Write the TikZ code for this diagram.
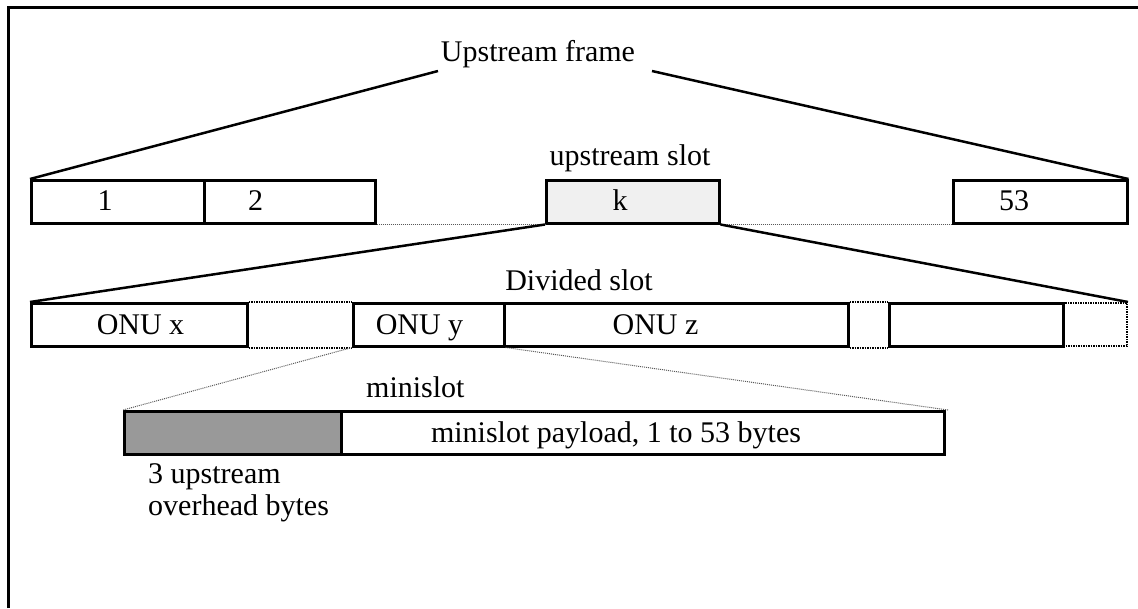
\documentclass[tikz,border=0pt]{standalone}
\usepackage{fontspec}
\setmainfont{Liberation Serif}
\definecolor{kfill}{gray}{0.94}
\definecolor{ohfill}{gray}{0.6}
\begin{document}
\begin{tikzpicture}[x=1pt,y=-1pt,
  every node/.style={font=\fontsize{30}{32}\selectfont},
  slotbox/.style={draw, line width=2.5pt, inner sep=0pt, anchor=north west, minimum height=43pt},
  gapbox/.style={draw, dash pattern=on 1.5pt off 1pt, line width=2pt, inner sep=0pt, anchor=north west, minimum height=43pt},
  lbl/.style={anchor=base, inner sep=0pt},
  link/.style={line width=2.5pt},
  gapline/.style={dash pattern=on 1.5pt off 1pt, line width=2pt},
  faint/.style={densely dotted, line width=1pt, black!65}]
\useasboundingbox (0,0) rectangle (1138,608);

% outer frame (top and left edges)
\draw[line width=3pt] (8.7,608) -- (8.7,7.5) -- (1138,7.5);

% upstream frame: slots 1, 2, k, 53
\node[slotbox, minimum width=173pt] (s1) at (30,179) {};
\node[slotbox, minimum width=171pt] (s2) at (203,179) {};
\node[slotbox, minimum width=173pt, fill=kfill] (sk) at (545,179) {};
\node[slotbox, minimum width=174pt] (s53) at (952,179) {};
\node[lbl] (t1) at (105,210) {1};
\node[lbl] (t2) at (255.5,210) {2};
\node[lbl] (tk) at (620,210) {k};
\node[lbl] (t53) at (1014,210) {53};
\draw[faint] (s2.south east) -- (sk.south west);
\draw[faint] (sk.south east) -- (s53.south west);

\node[lbl] (uf) at (538,61) {Upstream frame};
\node[lbl] (us) at (630,165) {upstream slot};
\coordinate (ufL) at (438,71);
\coordinate (ufR) at (652,71);
\draw[link] (s1.north west) -- (ufL);
\draw[link] (ufR) -- (s53.north east);

% divided slot
\node[slotbox, minimum width=216pt] (ox) at (30,302) {};
\node[slotbox, minimum width=151pt] (oy) at (352,302) {};
\node[slotbox, minimum width=344pt] (oz) at (503,302) {};
\node[gapbox, minimum width=64pt] (ot) at (1062,302) {};
\node[slotbox, minimum width=174pt] (ob) at (888,302) {};
\node[lbl] (tox) at (140.5,334) {ONU x};
\node[lbl] (toy) at (419.5,334) {ONU y};
\node[lbl] (toz) at (655.5,334) {ONU z};
\draw[gapline] (ox.north east) -- (oy.north west);
\draw[gapline] (ox.south east) -- (oy.south west);
\draw[gapline] (oz.north east) -- (ob.north west);
\draw[gapline] (oz.south east) -- (ob.south west);
\node[lbl] (ds) at (579,290) {Divided slot};
\draw[link] (sk.south west) -- (ox.north west);
\draw[link] (sk.south east) -- (ot.north east);

% minislot
\node[slotbox, minimum width=217pt, fill=ohfill] (ovh) at (123,410) {};
\node[slotbox, minimum width=603pt] (pay) at (340,410) {};
\node[lbl] (tpay) at (616,442) {minislot payload, 1 to 53 bytes};
\node[lbl, anchor=base west] (ms) at (366,397) {minislot};
\node[lbl, anchor=base west] (ov1) at (148,483) {3 upstream};
\node[lbl, anchor=base west] (ov2) at (148,515) {overhead bytes};
\coordinate (payR) at (948,410);
\draw[faint] (oy.south west) -- (ovh.north west);
\draw[faint] (oy.south east) -- (payR);
\end{tikzpicture}
\end{document}
